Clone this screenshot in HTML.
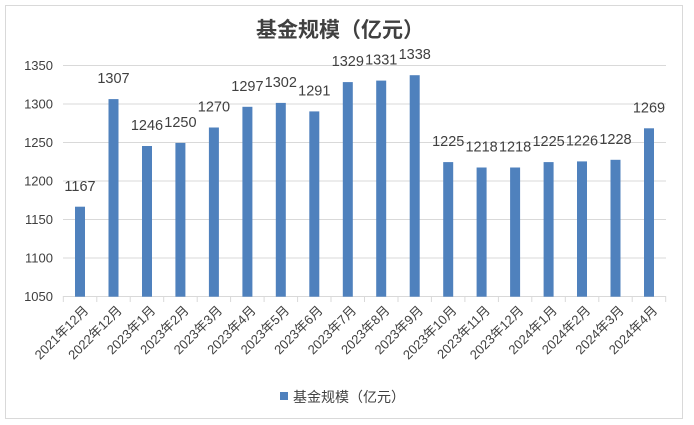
<!DOCTYPE html>
<html><head><meta charset="utf-8"><style>
html,body{margin:0;padding:0;background:#fff;}
svg{display:block;}
text{font-family:"Liberation Sans","Noto Sans CJK SC",sans-serif;fill:#404040;}
</style></head><body>
<svg width="694" height="425" viewBox="0 0 694 425" xmlns="http://www.w3.org/2000/svg">
<rect x="5.5" y="5.5" width="677" height="413" fill="#fff" stroke="#d9d9d9"/>
<text x="340" y="37" text-anchor="middle" font-size="21" font-weight="bold" style="font-family:'Noto Sans CJK SC',sans-serif;fill:#404040">基金规模（亿元）</text>
<g stroke="#d9d9d9" stroke-width="1">
<line x1="63" y1="65.5" x2="666" y2="65.5"/>
<line x1="63" y1="104" x2="666" y2="104"/>
<line x1="63" y1="142.5" x2="666" y2="142.5"/>
<line x1="63" y1="181" x2="666" y2="181"/>
<line x1="63" y1="219.5" x2="666" y2="219.5"/>
<line x1="63" y1="258" x2="666" y2="258"/>
<line x1="63" y1="296.5" x2="666" y2="296.5"/>
</g>
<g stroke="#d9d9d9">
<line x1="63.3" y1="296" x2="63.3" y2="302"/><line x1="96.8" y1="296" x2="96.8" y2="302"/><line x1="130.2" y1="296" x2="130.2" y2="302"/><line x1="163.7" y1="296" x2="163.7" y2="302"/><line x1="197.2" y1="296" x2="197.2" y2="302"/><line x1="230.6" y1="296" x2="230.6" y2="302"/><line x1="264.1" y1="296" x2="264.1" y2="302"/><line x1="297.6" y1="296" x2="297.6" y2="302"/><line x1="331" y1="296" x2="331" y2="302"/><line x1="364.5" y1="296" x2="364.5" y2="302"/><line x1="398" y1="296" x2="398" y2="302"/><line x1="431.4" y1="296" x2="431.4" y2="302"/><line x1="464.9" y1="296" x2="464.9" y2="302"/><line x1="498.4" y1="296" x2="498.4" y2="302"/><line x1="531.8" y1="296" x2="531.8" y2="302"/><line x1="565.3" y1="296" x2="565.3" y2="302"/><line x1="598.8" y1="296" x2="598.8" y2="302"/><line x1="632.2" y1="296" x2="632.2" y2="302"/><line x1="665.7" y1="296" x2="665.7" y2="302"/>
</g>
<g font-size="13" text-anchor="end">
<text x="53" y="70">1350</text><text x="53" y="108.5">1300</text><text x="53" y="147">1250</text><text x="53" y="185.5">1200</text><text x="53" y="224">1150</text><text x="53" y="262.5">1100</text><text x="53" y="301">1050</text>
</g>
<g fill="#4f81bd">
<rect x="75" y="206.7" width="10" height="90"/>
<rect x="108.5" y="99.1" width="10" height="197.6"/>
<rect x="142" y="146" width="10" height="150.7"/>
<rect x="175.4" y="142.9" width="10" height="153.8"/>
<rect x="208.9" y="127.5" width="10" height="169.2"/>
<rect x="242.4" y="106.8" width="10" height="189.9"/>
<rect x="275.8" y="102.9" width="10" height="193.8"/>
<rect x="309.3" y="111.4" width="10" height="185.3"/>
<rect x="342.8" y="82.1" width="10" height="214.6"/>
<rect x="376.2" y="80.6" width="10" height="216.1"/>
<rect x="409.7" y="75.2" width="10" height="221.5"/>
<rect x="443.2" y="162.1" width="10" height="134.6"/>
<rect x="476.6" y="167.5" width="10" height="129.2"/>
<rect x="510.1" y="167.5" width="10" height="129.2"/>
<rect x="543.6" y="162.1" width="10" height="134.6"/>
<rect x="577" y="161.4" width="10" height="135.3"/>
<rect x="610.5" y="159.8" width="10" height="136.9"/>
<rect x="644" y="128.3" width="10" height="168.4"/>
</g>
<g font-size="14.5" text-anchor="middle" style="fill:#000">
<text x="80" y="191">1167</text>
<text x="113.5" y="83">1307</text>
<text x="147" y="130">1246</text>
<text x="180.4" y="127">1250</text>
<text x="213.9" y="111.5">1270</text>
<text x="247.4" y="91">1297</text>
<text x="280.8" y="87">1302</text>
<text x="314.3" y="95.5">1291</text>
<text x="347.8" y="66">1329</text>
<text x="381.2" y="64.5">1331</text>
<text x="414.7" y="59">1338</text>
<text x="448.2" y="146">1225</text>
<text x="481.6" y="151.5">1218</text>
<text x="515.1" y="151.5">1218</text>
<text x="548.6" y="146">1225</text>
<text x="582" y="145.5">1226</text>
<text x="615.5" y="144">1228</text>
<text x="649" y="112.5">1269</text>
</g>
<g font-size="13" text-anchor="end">
<text transform="translate(86,308) rotate(-45)" dy="0.35em">2021年12月</text>
<text transform="translate(119.5,308) rotate(-45)" dy="0.35em">2022年12月</text>
<text transform="translate(153,308) rotate(-45)" dy="0.35em">2023年1月</text>
<text transform="translate(186.4,308) rotate(-45)" dy="0.35em">2023年2月</text>
<text transform="translate(219.9,308) rotate(-45)" dy="0.35em">2023年3月</text>
<text transform="translate(253.4,308) rotate(-45)" dy="0.35em">2023年4月</text>
<text transform="translate(286.8,308) rotate(-45)" dy="0.35em">2023年5月</text>
<text transform="translate(320.3,308) rotate(-45)" dy="0.35em">2023年6月</text>
<text transform="translate(353.8,308) rotate(-45)" dy="0.35em">2023年7月</text>
<text transform="translate(387.2,308) rotate(-45)" dy="0.35em">2023年8月</text>
<text transform="translate(420.7,308) rotate(-45)" dy="0.35em">2023年9月</text>
<text transform="translate(454.2,308) rotate(-45)" dy="0.35em">2023年10月</text>
<text transform="translate(487.6,308) rotate(-45)" dy="0.35em">2023年11月</text>
<text transform="translate(521.1,308) rotate(-45)" dy="0.35em">2023年12月</text>
<text transform="translate(554.6,308) rotate(-45)" dy="0.35em">2024年1月</text>
<text transform="translate(588,308) rotate(-45)" dy="0.35em">2024年2月</text>
<text transform="translate(621.5,308) rotate(-45)" dy="0.35em">2024年3月</text>
<text transform="translate(655,308) rotate(-45)" dy="0.35em">2024年4月</text>
</g>
<rect x="280" y="392" width="8" height="8" fill="#4f81bd"/>
<text x="293" y="402" font-size="14">基金规模（亿元）</text>
</svg>
</body></html>
